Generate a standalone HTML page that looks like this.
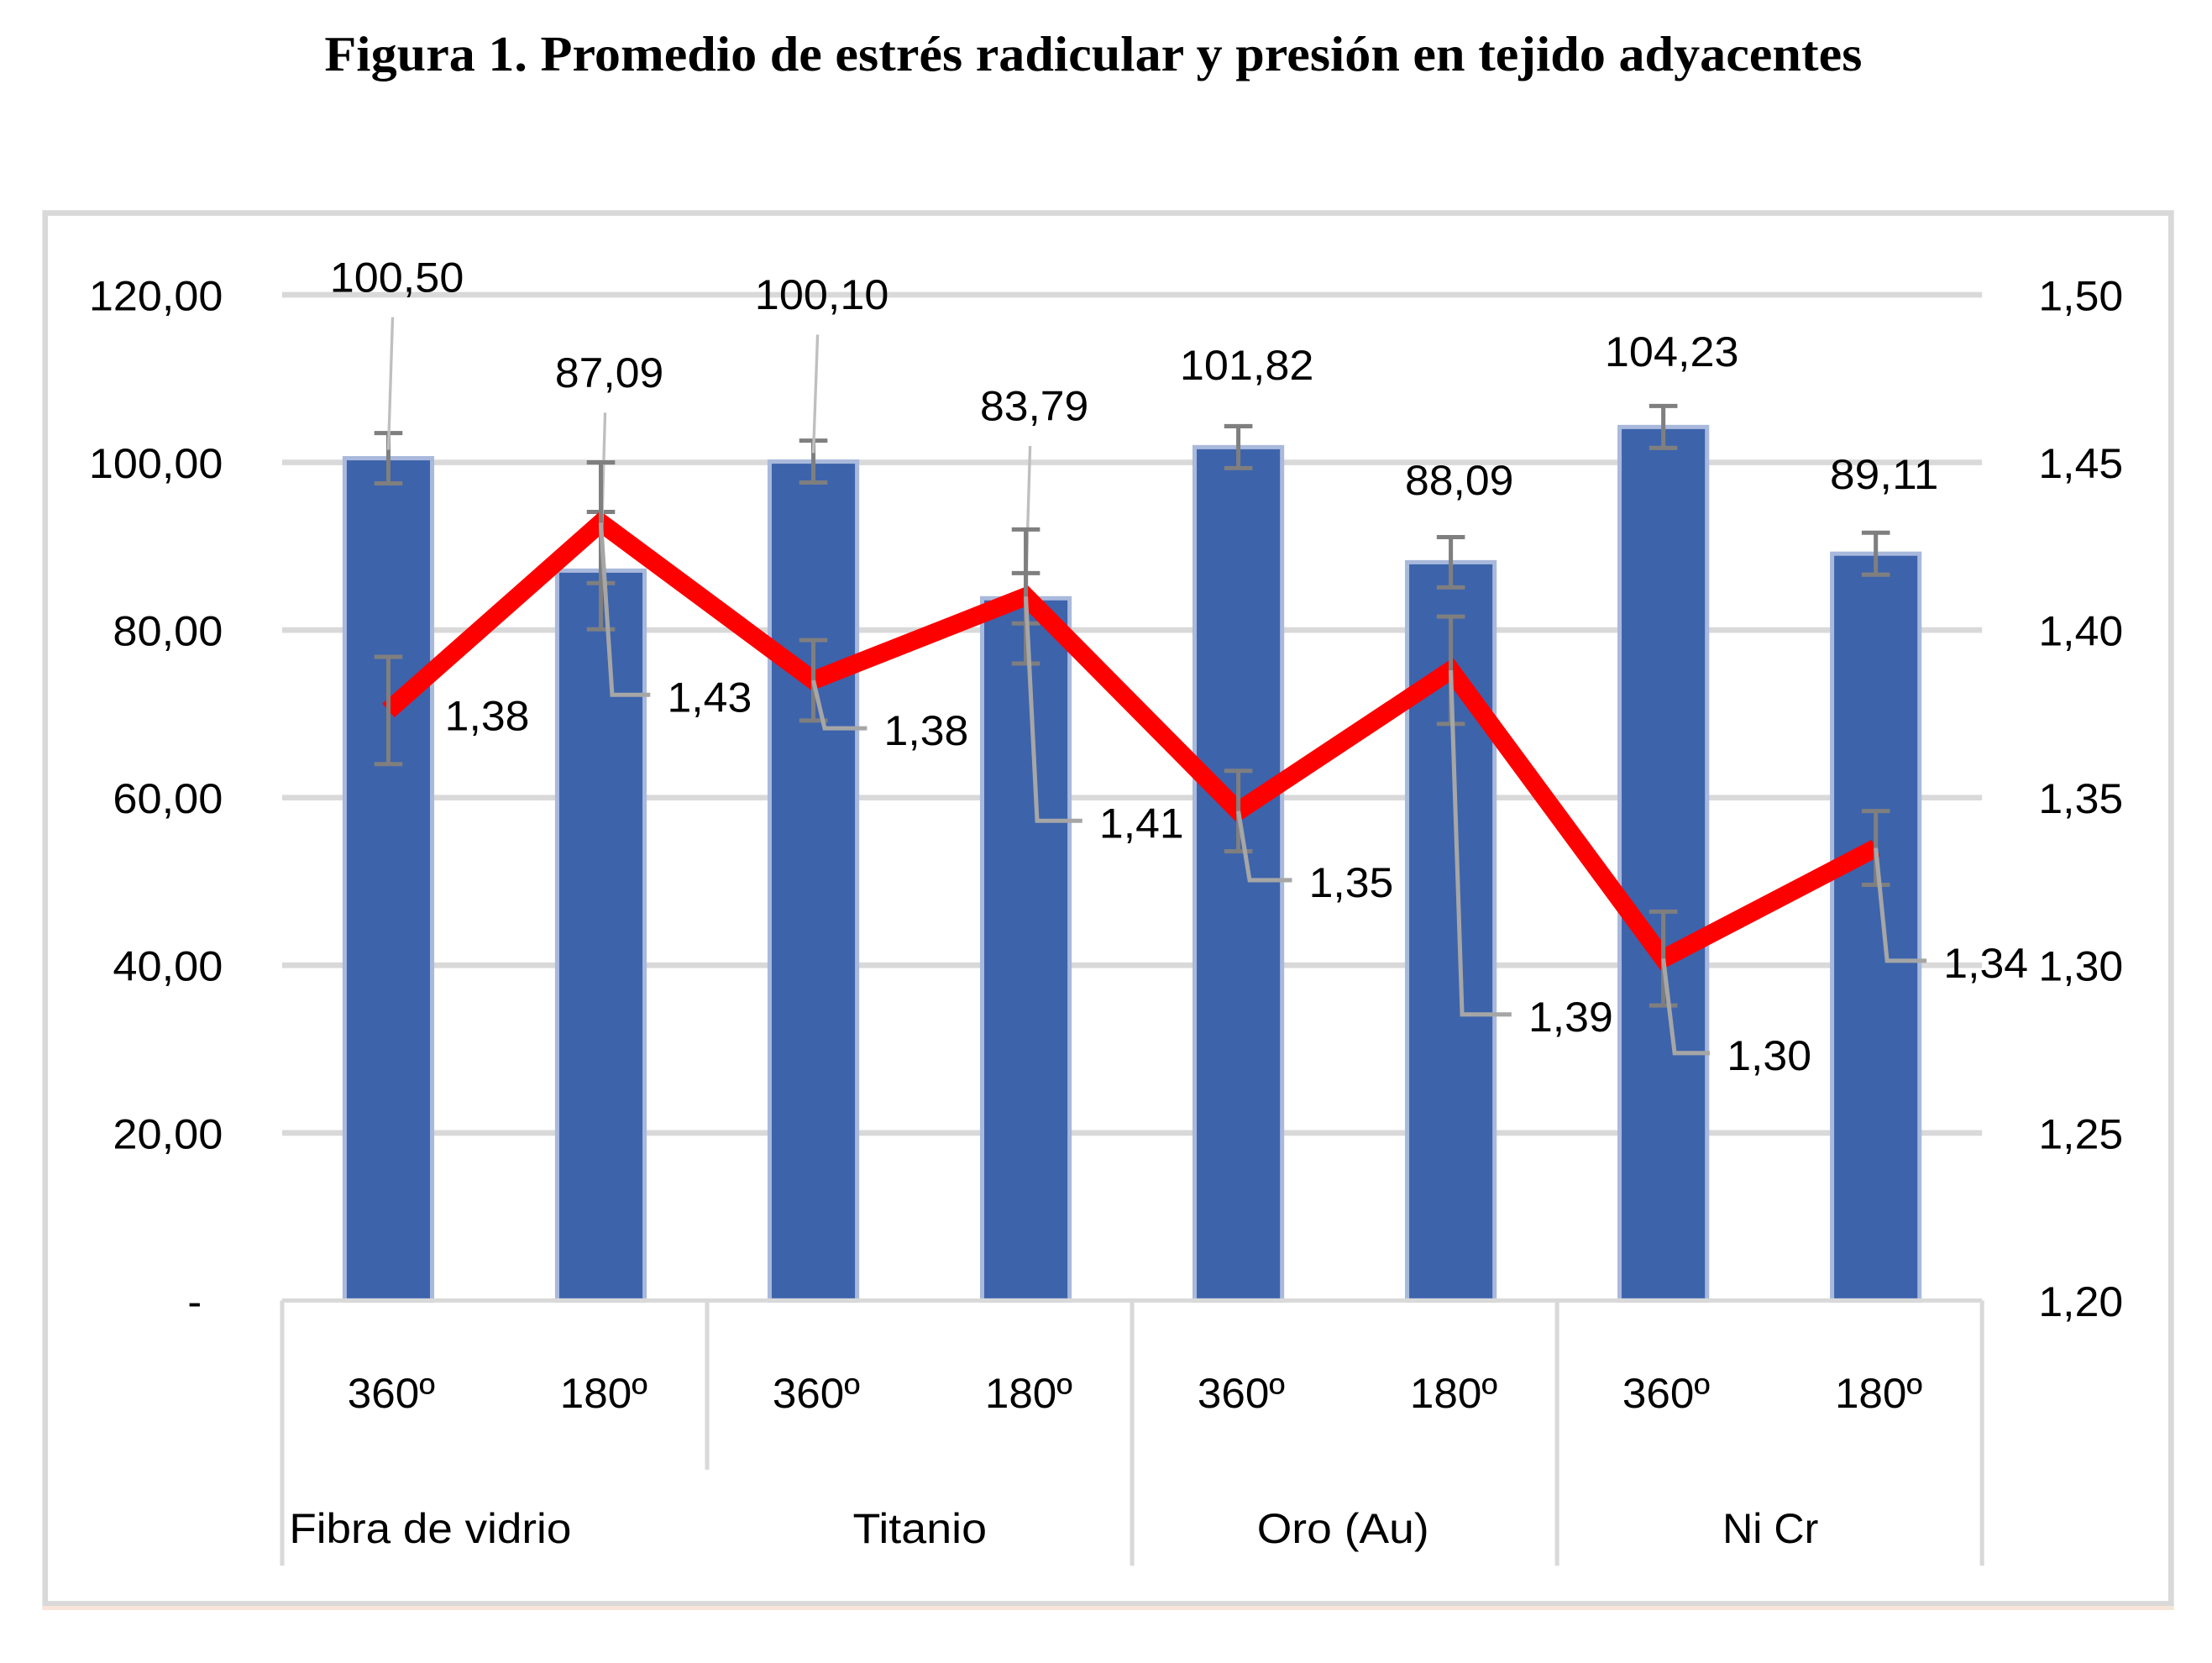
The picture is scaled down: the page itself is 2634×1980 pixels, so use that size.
<!DOCTYPE html>
<html><head><meta charset="utf-8">
<style>
html,body{margin:0;padding:0;background:#fff;}
svg{display:block;}
text{font-family:"Liberation Sans",sans-serif;}
</style></head>
<body>
<svg id="chart" width="2634" height="1980" viewBox="0 0 1568 1179" preserveAspectRatio="none" xmlns="http://www.w3.org/2000/svg">
<text x="775" y="50" text-anchor="middle" font-weight="bold" font-size="35" textLength="1090" lengthAdjust="spacingAndGlyphs" style="font-family:'Liberation Serif',serif">Figura 1. Promedio de estrés radicular y presión en tejido adyacentes</text>
<rect x="32" y="151" width="1507" height="986" fill="#fff" stroke="#d9d9d9" stroke-width="4"/>
<line x1="30" y1="1140" x2="1541" y2="1140" stroke="#f8e4d8" stroke-width="3"/>
<g id="grid"></g><g id="bars"></g><g id="line"></g><g id="labels"></g><g id="axes"></g>
</svg>
<script>
const categories=["360º","180º","360º","180º","360º","180º","360º","180º"];
const groups=["Fibra de vidrio","Titanio","Oro (Au)","Ni Cr"];
const barValues=[100.50,87.09,100.10,83.79,101.82,88.09,104.23,89.11];
const barErrors=[3,7,2.5,3,2.5,3,2.5,2.5];
const barLabels=["100,50","87,09","100,10","83,79","101,82","88,09","104,23","89,11"];
const lineValues=[1.376,1.432,1.385,1.410,1.346,1.388,1.302,1.335];
const lineErrors=[0.016,0.018,0.012,0.020,0.012,0.016,0.014,0.011];
const lineLabels=["1,38","1,43","1,38","1,41","1,35","1,39","1,30","1,34"];
const leftTicks=[0,20,40,60,80,100,120];
const leftTickLabels=["-","20,00","40,00","60,00","80,00","100,00","120,00"];
const rightTicks=[1.20,1.25,1.30,1.35,1.40,1.45,1.50];
const rightTickLabels=["1,20","1,25","1,30","1,35","1,40","1,45","1,50"];
// label placement offsets (layout, not data)
const barLabelDy=[-118,-130,-108,-126,-48,-48,-43,-46];
const barLeaderTop=[-88,-108,-78,-100,0,0,0,0];
const lineLabelDx=[70,77,80,82,80,85,75,78];
const lineLabelDy=[10,130,42,167,57,252,75,88];

const NS="http://www.w3.org/2000/svg";
const X0=200,X1=1405,YT=209,YB=922;
const yL=v=>YB-(v/120)*(YB-YT);
const yR=v=>YB-((v-1.2)/0.3)*(YB-YT);
const step=(X1-X0)/8;
const xC=i=>X0+step*(i+0.5);
function mk(tag,attrs,parent){const e=document.createElementNS(NS,tag);for(const k in attrs)e.setAttribute(k,attrs[k]);document.getElementById(parent).appendChild(e);return e;}
function txt(s,attrs,parent){const e=mk("text",attrs,parent);e.textContent=s;return e;}

leftTicks.forEach((t,i)=>{
  if(t>0){const g=mk("line",{x1:X0,x2:X1,y1:yL(t),y2:yL(t),stroke:"#d9d9d9","stroke-width":4},"grid");
  
  }
  const l=txt(leftTickLabels[i],{x:158,y:yL(t)+11,"text-anchor":"end","font-size":30,textLength:t>=100?95:78,lengthAdjust:"spacingAndGlyphs"},"axes");
  if(t===0){l.removeAttribute("textLength");l.setAttribute("x",143);}
  
  
});
rightTicks.forEach((t,i)=>{
  const l=txt(rightTickLabels[i],{x:1445,y:yR(t)+11,"font-size":30,textLength:60,lengthAdjust:"spacingAndGlyphs"},"axes");
  
  
});

barValues.forEach((v,i)=>{
  const x=xC(i),top=yL(v);
  const r=mk("rect",{x:x-31,y:top,width:62,height:YB-top,fill:"#3d63ab",stroke:"#a9b9dc","stroke-width":3},"bars");
  
  
  const e1=yL(v+barErrors[i]),e2=yL(v-barErrors[i]);
  const eb=mk("path",{d:`M${x},${e1}V${e2}M${x-10},${e1}H${x+10}M${x-10},${e2}H${x+10}`,stroke:"#7f7f7f","stroke-width":3,fill:"none"},"bars");
  
  
  const ly=top+barLabelDy[i];
  if(barLeaderTop[i]!==0){
    const ld=mk("line",{x1:x+3,y1:ly+18,x2:x,y2:top-6,stroke:"#bfbfbf","stroke-width":2},"labels");
    
    
  }
  const t=txt(barLabels[i],{x:x+6,y:ly,"text-anchor":"middle","font-size":30,textLength:barLabels[i].length>5?95:77,lengthAdjust:"spacingAndGlyphs"},"labels");
  
  
});

let d="";
lineValues.forEach((v,i)=>{d+=(i?"L":"M")+xC(i)+","+yR(v);});
const pl=mk("path",{d:d,stroke:"#ff0000","stroke-width":13,fill:"none","stroke-linejoin":"miter"},"line");


lineValues.forEach((v,i)=>{
  const x=xC(i),y=yR(v);
  const e1=yR(v+lineErrors[i]),e2=yR(v-lineErrors[i]);
  const eb=mk("path",{d:`M${x},${e1}V${e2}M${x-10},${e1}H${x+10}M${x-10},${e2}H${x+10}`,stroke:"#7f7f7f","stroke-width":3,fill:"none"},"labels");
  
  
  const lx=x+lineLabelDx[i],ly=y+lineLabelDy[i];
  if(lineLabelDy[i]>20){
    const ld=mk("polyline",{points:`${x},${y} ${x+8},${ly-8} ${lx-42},${ly-8}`,stroke:"#a6a6a6","stroke-width":3,fill:"none"},"labels");
    
    
  }
  const t=txt(lineLabels[i],{x:lx,y:ly+4,"text-anchor":"middle","font-size":30,textLength:60,lengthAdjust:"spacingAndGlyphs"},"labels");
  
  
});

// category axis
const ax=mk("path",{d:`M${X0},${YB}H${X1}M${X0},${YB}V1110M${X0+step*2},${YB}V1042M${X0+step*4},${YB}V1110M${X0+step*6},${YB}V1110M${X1},${YB}V1110`,stroke:"#d9d9d9","stroke-width":3,fill:"none"},"axes");


categories.forEach((c,i)=>{
  const t=txt(c,{x:xC(i)+2,y:998,"text-anchor":"middle","font-size":30,textLength:62,lengthAdjust:"spacingAndGlyphs"},"axes");
  
  
});
const gx=[305,652,952,1255],gw=[200,95,122,68];
groups.forEach((g,i)=>{
  const t=txt(g,{x:gx[i],y:1094,"text-anchor":"middle","font-size":30,textLength:gw[i],lengthAdjust:"spacingAndGlyphs"},"axes");
  
  
});
</script>
</body></html>
